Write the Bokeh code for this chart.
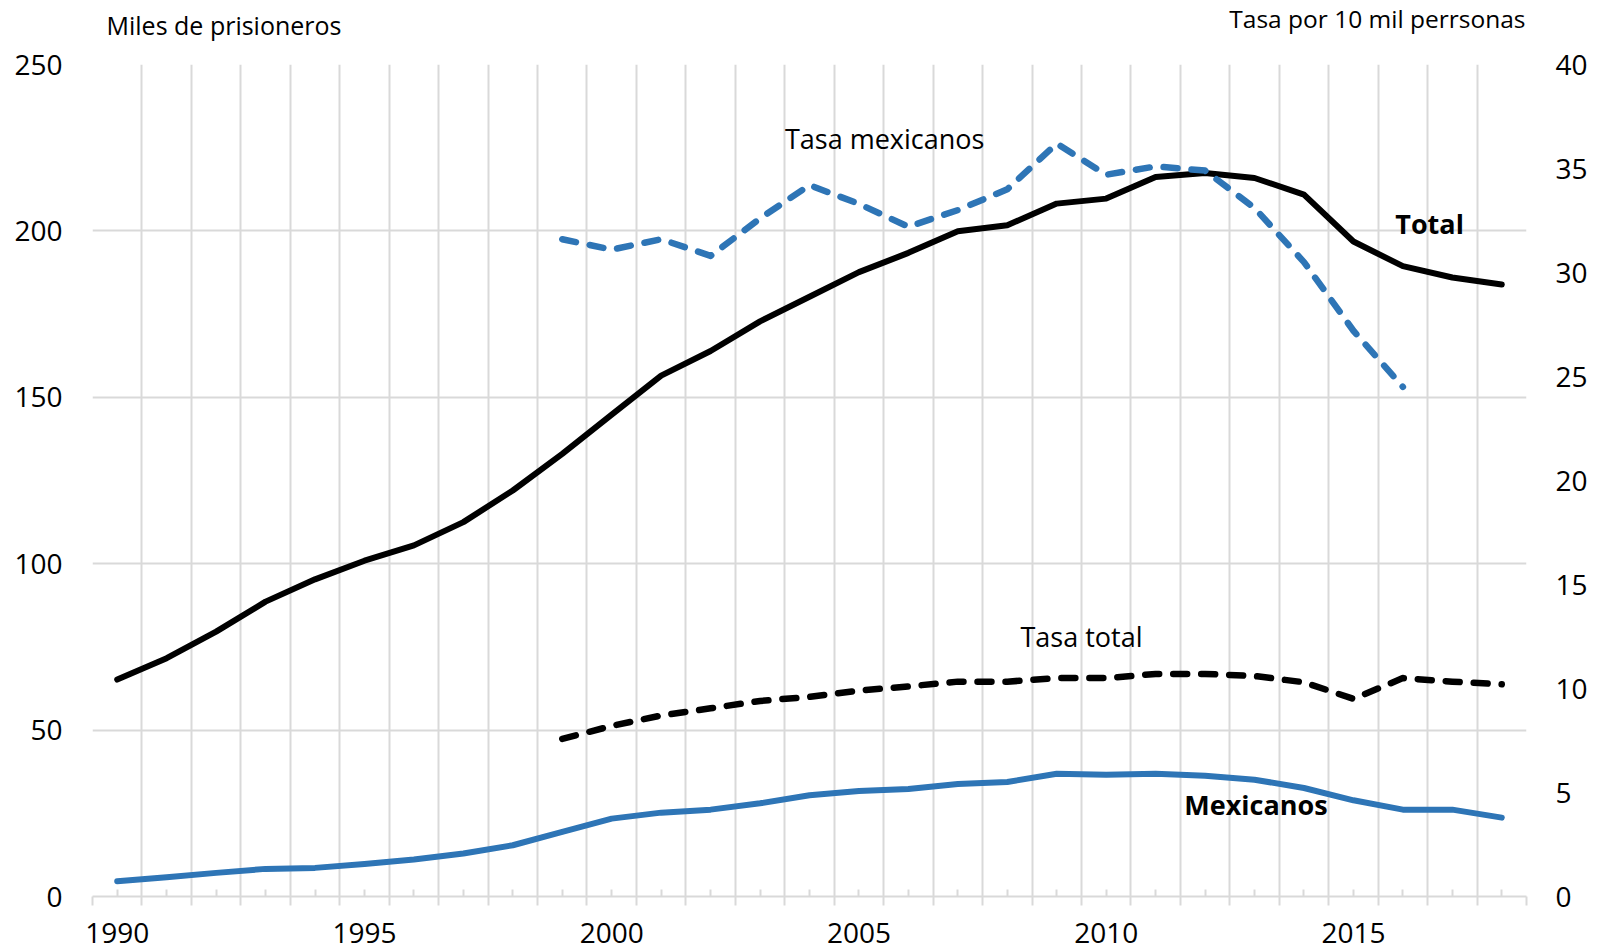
from bokeh.plotting import figure
from bokeh.layouts import column
from bokeh.models import LinearAxis, Range1d, FixedTicker, Label
from bokeh.core.properties import value
from bokeh.embed import file_html
from bokeh.resources import INLINE

# ---- data ----
years = list(range(1990, 2019))
total = [65.2, 71.6, 79.6, 88.6, 95.3, 100.9, 105.5, 112.5, 122.0, 133.0,
         144.8, 156.5, 163.9, 172.8, 180.2, 187.6, 193.4, 199.9, 201.7, 208.2,
         209.7, 216.2, 217.4, 215.9, 210.9, 196.8, 189.4, 186.0, 183.9]
mexicanos = [4.6, 5.8, 7.1, 8.3, 8.6, 9.8, 11.1, 12.9, 15.4, 19.4,
             23.4, 25.2, 26.1, 28.0, 30.4, 31.7, 32.3, 33.8, 34.4, 36.9,
             36.6, 36.9, 36.3, 35.1, 32.6, 28.9, 26.1, 26.1, 23.7]
rate_total_years = list(range(1999, 2019))
tasa_total = [7.58, 8.2, 8.7, 9.05, 9.4, 9.6, 9.9, 10.1, 10.33, 10.33,
              10.5, 10.5, 10.7, 10.7, 10.6, 10.3, 9.5, 10.5, 10.33, 10.2]
rate_mex_years = list(range(1999, 2017))
tasa_mexicanos = [31.6, 31.1, 31.6, 30.8, 32.6, 34.2, 33.3, 32.2, 33.0, 34.0,
                  36.2, 34.7, 35.1, 34.9, 33.1, 30.5, 27.2, 24.5]
left_ticks = [0, 50, 100, 150, 200, 250]
right_ticks = [0, 5, 10, 15, 20, 25, 30, 35, 40]
label_years = [1990, 1995, 2000, 2005, 2010, 2015]
left_title = "Miles de prisioneros"
right_title = "Tasa por 10 mil perrsonas"

FONT = "Open Sans"
GRID = "#d9d9d9"
BLUE = "#2E75B6"
W = 1604
HEAD_H = 44
MAIN_H = 952 - HEAD_H
FRAME_L, FRAME_R = 92, 1526

boundaries = [y - 0.5 for y in years] + [years[-1] + 0.5]

# ---- header with the two axis titles (frame aligns with the chart frame) ----
head = figure(width=W, height=HEAD_H, x_range=Range1d(FRAME_L, FRAME_R),
              y_range=Range1d(HEAD_H, 0),
              output_backend="svg", toolbar_location=None,
              x_axis_location=None, y_axis_location=None, min_border=0)
head.outline_line_color = None
head.xgrid.visible = False
head.ygrid.visible = False
head.text(x=[106], y=[24], text=[left_title], text_font=value(FONT),
          text_font_size="25px", text_color="black",
          text_align="left", text_baseline="middle")
head.text(x=[1525], y=[18], text=[right_title], text_font=value(FONT),
          text_font_size="24.5px", text_color="black",
          text_align="right", text_baseline="middle")

# ---- main chart ----
p = figure(width=W, height=MAIN_H,
           x_range=Range1d(years[0] - 0.5, years[-1] + 0.5),
           y_range=Range1d(0, 250),
           output_backend="svg", toolbar_location=None,
           min_border_left=FRAME_L, min_border_right=W - FRAME_R,
           min_border_top=20, min_border_bottom=56)
p.extra_y_ranges = {"rate": Range1d(0, 40)}
p.outline_line_color = None

# grids
p.xgrid.ticker = FixedTicker(ticks=boundaries)
p.ygrid.ticker = FixedTicker(ticks=left_ticks)
for g in (p.xgrid, p.ygrid):
    g.grid_line_color = GRID
    g.grid_line_width = 2

# x axis
xa = p.xaxis[0]
xa.ticker = FixedTicker(ticks=years, minor_ticks=boundaries)
xa.major_label_overrides = {y: (str(y) if y in label_years else "") for y in years}
xa.axis_line_color = GRID
xa.axis_line_width = 2
xa.major_tick_in = 7
xa.major_tick_out = 0
xa.major_tick_line_color = GRID
xa.major_tick_line_width = 2
xa.minor_tick_in = 0
xa.minor_tick_out = 9
xa.minor_tick_line_color = GRID
xa.minor_tick_line_width = 2
xa.major_label_standoff = 17
xa.major_label_text_font = FONT
xa.major_label_text_font_size = "28px"
xa.major_label_text_color = "black"

# left y axis
ya = p.yaxis[0]
ya.ticker = FixedTicker(ticks=left_ticks)
ya.axis_line_color = None
ya.major_tick_line_color = None
ya.minor_tick_line_color = None
ya.major_tick_in = 0
ya.major_tick_out = 0
ya.minor_tick_in = 0
ya.minor_tick_out = 0
ya.major_label_standoff = 30
ya.major_label_text_font = FONT
ya.major_label_text_font_size = "28px"
ya.major_label_text_color = "black"

# right y axis
ra = LinearAxis(y_range_name="rate", ticker=FixedTicker(ticks=right_ticks))
ra.axis_line_color = None
ra.major_tick_line_color = None
ra.minor_tick_line_color = None
ra.major_tick_in = 0
ra.major_tick_out = 0
ra.minor_tick_in = 0
ra.minor_tick_out = 0
ra.major_label_standoff = 29
ra.major_label_text_font = FONT
ra.major_label_text_font_size = "28px"
ra.major_label_text_color = "black"
p.add_layout(ra, "right")

# series
p.line(years, mexicanos, line_color=BLUE, line_width=6, line_join="round", line_cap="round")
p.line(years, total, line_color="black", line_width=6, line_join="round", line_cap="round")
p.line(rate_total_years, tasa_total, y_range_name="rate", line_color="black",
       line_width=6.5, line_dash="14 14", line_cap="round", line_join="round")
p.line(rate_mex_years, tasa_mexicanos, y_range_name="rate", line_color=BLUE,
       line_width=6.5, line_dash="14 14", line_cap="round", line_join="round")

# series labels
for lx, ly, txt, style in [(2005.52, 227.9, "Tasa mexicanos", "normal"),
                           (2016.54, 202.3, "Total", "bold"),
                           (2009.5, 78.2, "Tasa total", "normal"),
                           (2013.03, 27.7, "Mexicanos", "bold")]:
    p.add_layout(Label(x=lx, y=ly, text=txt, text_font=FONT,
                       text_font_size="27px", text_font_style=style,
                       text_color="black", text_align="center",
                       text_baseline="middle"))

layout = column(head, p, spacing=0)
open("out.html", "w").write(file_html(layout, INLINE))
